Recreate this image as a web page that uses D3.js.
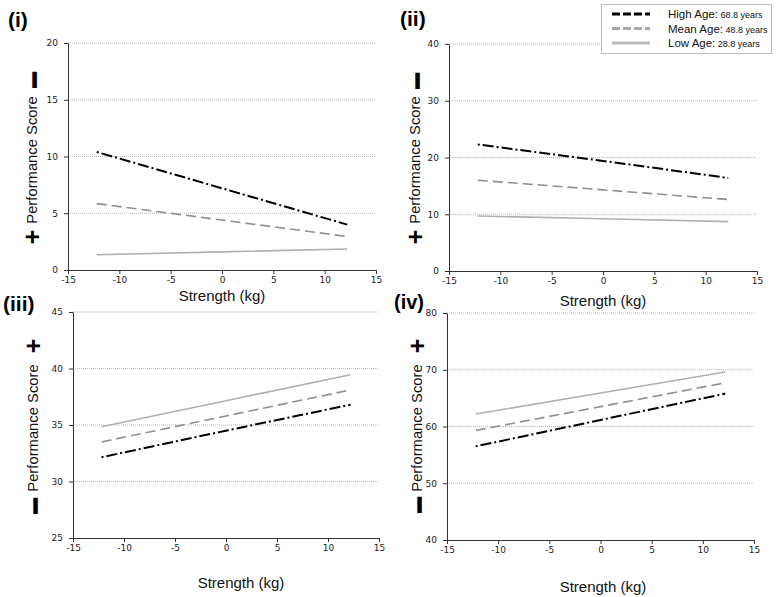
<!DOCTYPE html>
<html><head><meta charset="utf-8">
<script src="https://cdn.jsdelivr.net/npm/d3@7"></script>
<style>body{margin:0;background:#fff}svg{display:block}</style>
</head><body>
<svg id="c" width="776" height="597"></svg>
<script>
// ---- data ----
const strengthX = [-12.2, 0, 12.2];
const xTicks = [-15, -10, -5, 0, 5, 10, 15];
const seriesNames = ["High Age", "Mean Age", "Low Age"];
const seriesAges = ["68.8 years", "48.8 years", "28.8 years"];
const panelLabels = ["(i)", "(ii)", "(iii)", "(iv)"];
const yTicks1 = [0, 5, 10, 15, 20];
const yTicks2 = [0, 10, 20, 30, 40];
const yTicks3 = [25, 30, 35, 40, 45];
const yTicks4 = [40, 50, 60, 70, 80];
const high1 = [10.4, 7.2, 4.0], mean1 = [5.85, 4.4, 2.95], low1 = [1.35, 1.6, 1.85];
const high2 = [22.3, 19.4, 16.4], mean2 = [16.0, 14.3, 12.6], low2 = [9.7, 9.2, 8.7];
const high3 = [32.15, 34.5, 36.8], mean3 = [33.5, 35.8, 38.1], low3 = [34.85, 37.15, 39.45];
const high4 = [56.5, 61.15, 65.8], mean4 = [59.3, 63.5, 67.7], low4 = [62.2, 65.9, 69.6];
const xTitle = "Strength (kg)", yTitle = "Performance Score";

// ---- layout ----
const panels = [
  {x0:68, x1:376, yT:43, yB:270, ticks:yTicks1, s:[high1,mean1,low1], lab:[8,27], xt:[222,301], yl:{x:37, mid:160, plus:237, minus:80}},
  {x0:449, x1:757, yT:44, yB:271, ticks:yTicks2, s:[high2,mean2,low2], lab:[400,26], xt:[603,306], yl:{x:420, mid:160, plus:237, minus:81}},
  {x0:73, x1:379, yT:312, yB:538, ticks:yTicks3, s:[high3,mean3,low3], lab:[3,311], xt:[241,588], yl:{x:38, mid:428, plus:346, minus:506}},
  {x0:447, x1:754, yT:313, yB:540, ticks:yTicks4, s:[high4,mean4,low4], lab:[394,309], xt:[603,592], yl:{x:422, mid:428, plus:346, minus:505}}
];
const styles = [
  {stroke:"#000", w:2, dash:"2,3,11,3"},
  {stroke:"#8f8f8f", w:1.6, dash:"10,5"},
  {stroke:"#b0b0b0", w:1.6, dash:null}
];
const svg = d3.select("#c");

panels.forEach((p, i) => {
  const x = d3.scaleLinear().domain([-15, 15]).range([p.x0, p.x1]);
  const y = d3.scaleLinear().domain([p.ticks[0], p.ticks[p.ticks.length-1]]).range([p.yB, p.yT]);
  const g = svg.append("g");
  g.selectAll("line.grid").data(p.ticks.slice(1)).join("line")
    .attr("x1", p.x0).attr("x2", p.x1).attr("y1", d => y(d)).attr("y2", d => y(d))
    .attr("stroke", "#b8b8b8").attr("stroke-width", 1).attr("stroke-dasharray", "1,1");
  const xa = g.append("g").attr("transform", `translate(0,${p.yB})`)
    .call(d3.axisBottom(x).tickValues(xTicks).tickSize(4).tickSizeOuter(0).tickFormat(d => String(d)));
  const ya = g.append("g").attr("transform", `translate(${p.x0},0)`)
    .call(d3.axisLeft(y).tickValues(p.ticks).tickSize(4).tickSizeOuter(0).tickPadding(6).tickFormat(d => String(d)));
  [xa, ya].forEach(a => {
    a.select(".domain").attr("stroke", "#333");
    a.selectAll(".tick line").attr("stroke", "#333");
    a.selectAll(".tick text").attr("fill", "#222").style("font-family", "DejaVu Sans").style("font-size", "9px");
  });
  xa.selectAll(".tick text").attr("dy", "0.9em").attr("y", 5);
  const line = d3.line().x((d, k) => x(strengthX[k])).y(d => y(d));
  p.s.forEach((vals, k) => {
    const st = styles[k];
    g.append("path").datum(vals).attr("d", line).attr("fill", "none")
      .attr("stroke", st.stroke).attr("stroke-width", st.w)
      .attr("stroke-dasharray", st.dash);
  });
  svg.append("text").attr("x", p.lab[0]).attr("y", p.lab[1]).text(panelLabels[i])
    .style("font-family", "Liberation Sans").style("font-weight", "bold").style("font-size", i === 3 ? "20px" : "21px").attr("fill", "#000");
  svg.append("text").attr("x", p.xt[0]).attr("y", p.xt[1]).attr("text-anchor", "middle").text(xTitle)
    .style("font-family", "Liberation Sans").style("font-size", "15px").attr("fill", "#111");
  const yl = p.yl;
  svg.append("text").attr("transform", `translate(${yl.x},${yl.mid}) rotate(-90)`).attr("text-anchor", "middle")
    .text(yTitle).style("font-family", "Liberation Sans").style("font-size", "14.8px").attr("fill", "#111");
  svg.append("text").attr("transform", `translate(${yl.x - 5.5},${yl.plus}) rotate(-90)`).attr("text-anchor", "middle")
    .attr("dominant-baseline", "central").text("+")
    .style("font-family", "Liberation Sans").style("font-weight", "bold").style("font-size", "25px").attr("fill", "#000");
  svg.append("text").attr("transform", `translate(${yl.x - 5},${yl.minus}) rotate(-90)`).attr("text-anchor", "middle")
    .attr("dominant-baseline", "central").text("–")
    .style("font-family", "Liberation Sans").style("font-weight", "bold").style("font-size", "30px")
    .attr("fill", "#000").attr("stroke", "#000").attr("stroke-width", 1.5);
});

// legend
const lg = svg.append("g");
lg.append("rect").attr("x", 601.5).attr("y", 4.5).attr("width", 170).attr("height", 49)
  .attr("fill", "#fff").attr("stroke", "#bdbdbd").attr("stroke-width", 1);
const legY = [14, 28.5, 43];
const legStyles = [
  {stroke:"#000", dash:"8,3"},
  {stroke:"#a8a8a8", dash:"8,3"},
  {stroke:"#bbbbbb", dash:null}
];
seriesNames.forEach((n, k) => {
  lg.append("line").attr("x1", 612).attr("x2", 650).attr("y1", legY[k]).attr("y2", legY[k])
    .attr("stroke", legStyles[k].stroke).attr("stroke-width", 3).attr("stroke-dasharray", legStyles[k].dash);
  const t = lg.append("text").attr("x", 668).attr("y", legY[k] + 4).attr("fill", "#111")
    .style("font-family", "Liberation Sans");
  t.append("tspan").text(n + ":").style("font-size", "11.5px");
  t.append("tspan").text(" " + seriesAges[k]).style("font-size", "9px");
});
</script>
</body></html>
